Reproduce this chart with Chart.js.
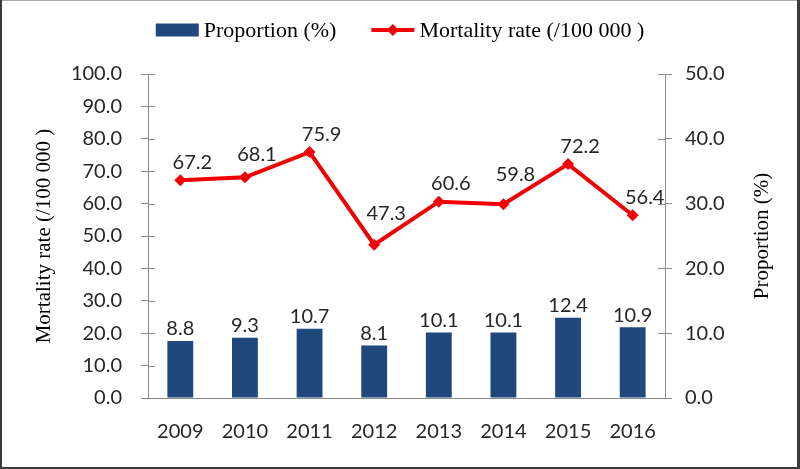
<!DOCTYPE html>
<html>
<head>
<meta charset="utf-8">
<script src="https://cdn.jsdelivr.net/npm/chart.js@4/dist/chart.umd.min.js"></script>
<style>
html,body{margin:0;padding:0;background:#fff;}
canvas{display:block;}
</style>
</head>
<body>
<canvas id="c" width="800" height="469"></canvas>
<script>
// ---- data ----
const years = ['2009', '2010', '2011', '2012', '2013', '2014', '2015', '2016'];
const mortalityRate = [67.2, 68.1, 75.9, 47.3, 60.6, 59.8, 72.2, 56.4];
const proportion = [8.8, 9.3, 10.7, 8.1, 10.1, 10.1, 12.4, 10.9];
const mortalityAxis = { min: 0, max: 100, step: 10 };
const proportionAxis = { min: 0, max: 50, step: 10 };
const mortalityLabel = 'Mortality rate (/100 000 )';
const proportionLabel = 'Proportion (%)';

// ---- styles ----
const BLUE = '#1F497D';
const RED = '#F00000';
const AXIS = '#8A8A8A';
const TEXT = '#262626';
const SANS = 'Lato, "Open Sans", sans-serif';
const SERIF = '"Liberation Serif", "DejaVu Serif", serif';

const frame = {
  id: 'frame',
  beforeDraw(chart) {
    const ctx = chart.ctx;
    ctx.save(); ctx.fillStyle = '#fff'; ctx.fillRect(0, 0, chart.width, chart.height); ctx.restore();
  },
  afterDraw(chart) {
    const ctx = chart.ctx, w = chart.width, h = chart.height;
    ctx.save();
    ctx.fillStyle = '#AAAAAA'; ctx.fillRect(0, 0, w, 1);
    ctx.fillStyle = '#3C3C3C';
    ctx.fillRect(0, 0, 2, h); ctx.fillRect(w - 3, 0, 3, h); ctx.fillRect(0, h - 2, w, 2);
    ctx.restore();
  }
};

// legend drawn on the canvas: bar swatch + text, line-with-diamond swatch + text
const legendBox = {
  id: 'legendBox',
  afterDraw(chart) {
    const ctx = chart.ctx;
    ctx.save();
    ctx.font = '22px ' + SERIF;
    const items = chart.data.datasets.slice().sort((a, b) => (a.type === 'bar' ? -1 : 1));
    const swW = 43, gapText = 5, gapItem = 35;
    const widths = items.map(ds => swW + gapText + ctx.measureText(ds.label).width);
    const total = widths.reduce((s, w) => s + w, 0) + gapItem * (items.length - 1);
    let x = (chart.width - total) / 2;
    const cy = 30;
    items.forEach((ds, i) => {
      if (ds.type === 'bar') {
        ctx.fillStyle = ds.backgroundColor;
        ctx.fillRect(x, cy - 6.5, swW, 13);
      } else {
        ctx.strokeStyle = ds.borderColor; ctx.lineWidth = ds.borderWidth;
        ctx.beginPath(); ctx.moveTo(x, cy); ctx.lineTo(x + swW, cy); ctx.stroke();
        ctx.fillStyle = ds.borderColor;
        const mx = x + swW / 2;
        ctx.beginPath(); ctx.moveTo(mx, cy - 6); ctx.lineTo(mx + 6, cy); ctx.lineTo(mx, cy + 6); ctx.lineTo(mx - 6, cy); ctx.closePath(); ctx.fill();
      }
      ctx.fillStyle = '#000';
      ctx.textAlign = 'left'; ctx.textBaseline = 'middle';
      ctx.fillText(ds.label, x + swW + gapText, cy + 1);
      x += widths[i] + gapItem;
    });
    ctx.restore();
  }
};

const axisExtras = {
  id: 'axisExtras',
  afterDraw(chart) {
    const ctx = chart.ctx;
    ctx.save();
    ctx.strokeStyle = AXIS; ctx.lineWidth = 1;
    [['y', 1], ['y1', -1]].forEach(([id, dir]) => {
      const s = chart.scales[id];
      const ax = dir === 1 ? s.right : s.left;
      s.ticks.forEach((t, i) => {
        const y = Math.round(s.getPixelForTick(i)) + 0.5;
        ctx.beginPath(); ctx.moveTo(ax, y); ctx.lineTo(ax + dir * 7, y); ctx.stroke();
      });
    });
    // right axis title, reading bottom-to-top
    const r = chart.scales.y1;
    ctx.fillStyle = '#000';
    ctx.font = '21px ' + SERIF;
    ctx.textAlign = 'center'; ctx.textBaseline = 'middle';
    ctx.translate(r.right - 38, (r.top + r.bottom) / 2);
    ctx.rotate(-Math.PI / 2);
    ctx.fillText(proportionLabel, 0, 0);
    ctx.restore();
  }
};

// value labels: bars centred above; line labels above-right, lifted clear of the line
const dataLabels = {
  id: 'dataLabels',
  afterDatasetsDraw(chart) {
    const ctx = chart.ctx;
    ctx.save();
    ctx.font = '20px ' + SANS;
    ctx.fillStyle = TEXT;
    ctx.textAlign = 'center'; ctx.textBaseline = 'middle';
    chart.data.datasets.forEach((ds, di) => {
      const meta = chart.getDatasetMeta(di);
      const pts = meta.data;
      const lineY = (x) => {
        for (let k = 0; k < pts.length - 1; k++) {
          const a = pts[k], b = pts[k + 1];
          if (x >= a.x && x <= b.x) return a.y + (b.y - a.y) * (x - a.x) / (b.x - a.x);
        }
        return Infinity;
      };
      pts.forEach((el, i) => {
        const txt = ds.data[i].toFixed(1);
        if (ds.type === 'bar') {
          ctx.fillText(txt, el.x, el.y - 12);
        } else {
          const cx = el.x + 12;
          const w = ctx.measureText(txt).width;
          let cy = el.y - 18;
          const clear = Math.min(lineY(cx - w / 2), lineY(cx + w / 2)) - 10;
          cy = Math.min(cy, clear);
          ctx.fillText(txt, cx, cy);
        }
      });
    });
    ctx.restore();
  }
};

function make() {
  new Chart(document.getElementById('c'), {
    data: {
      labels: years,
      datasets: [
        {
          type: 'bar', label: proportionLabel, data: proportion, yAxisID: 'y1',
          backgroundColor: BLUE, borderWidth: 0,
          categoryPercentage: 1, barPercentage: 0.4, order: 1
        },
        {
          type: 'line', label: mortalityLabel, data: mortalityRate, yAxisID: 'y',
          borderColor: RED, backgroundColor: RED, borderWidth: 4, tension: 0,
          pointStyle: 'rectRot', pointRadius: 6, pointBackgroundColor: RED,
          pointBorderWidth: 0, order: 0
        }
      ]
    },
    options: {
      responsive: false,
      animation: false,
      layout: { padding: { top: 74, left: 0, right: 0, bottom: 0 } },
      plugins: {
        tooltip: { enabled: false },
        legend: { display: false }
      },
      scales: {
        x: {
          offset: true,
          grid: { display: false, drawTicks: false },
          border: { display: true, color: AXIS, width: 1 },
          ticks: { color: TEXT, font: { family: SANS, size: 20 }, padding: 22, maxRotation: 0 },
          afterFit(s) { s.height = 71; }
        },
        y: {
          position: 'left',
          min: mortalityAxis.min, max: mortalityAxis.max,
          grid: { drawOnChartArea: false, drawTicks: true, tickLength: 7, color: AXIS },
          border: { display: true, color: AXIS, width: 1 },
          ticks: { stepSize: mortalityAxis.step, color: TEXT, font: { family: SANS, size: 20 }, padding: 19,
                   callback: v => Number(v).toFixed(1) },
          title: { display: true, text: mortalityLabel, color: '#000', font: { family: SERIF, size: 21 }, padding: { top: 32, bottom: 0 } },
          afterFit(s) { s.width = 148; }
        },
        y1: {
          position: 'right',
          min: proportionAxis.min, max: proportionAxis.max,
          grid: { drawOnChartArea: false, drawTicks: true, tickLength: 7, color: AXIS },
          border: { display: true, color: AXIS, width: 1 },
          ticks: { stepSize: proportionAxis.step, color: TEXT, font: { family: SANS, size: 20 }, padding: 13,
                   callback: v => Number(v).toFixed(1) },
          afterFit(s) { s.width = 135; }
        }
      }
    },
    plugins: [frame, legendBox, axisExtras, dataLabels]
  });
}

const fontsReady = document.fonts && document.fonts.load
  ? Promise.all([document.fonts.load('20px Lato'), document.fonts.load('21px "Liberation Serif"')]).catch(() => {})
  : Promise.resolve();
fontsReady.then(make, make);
</script>
</body>
</html>
